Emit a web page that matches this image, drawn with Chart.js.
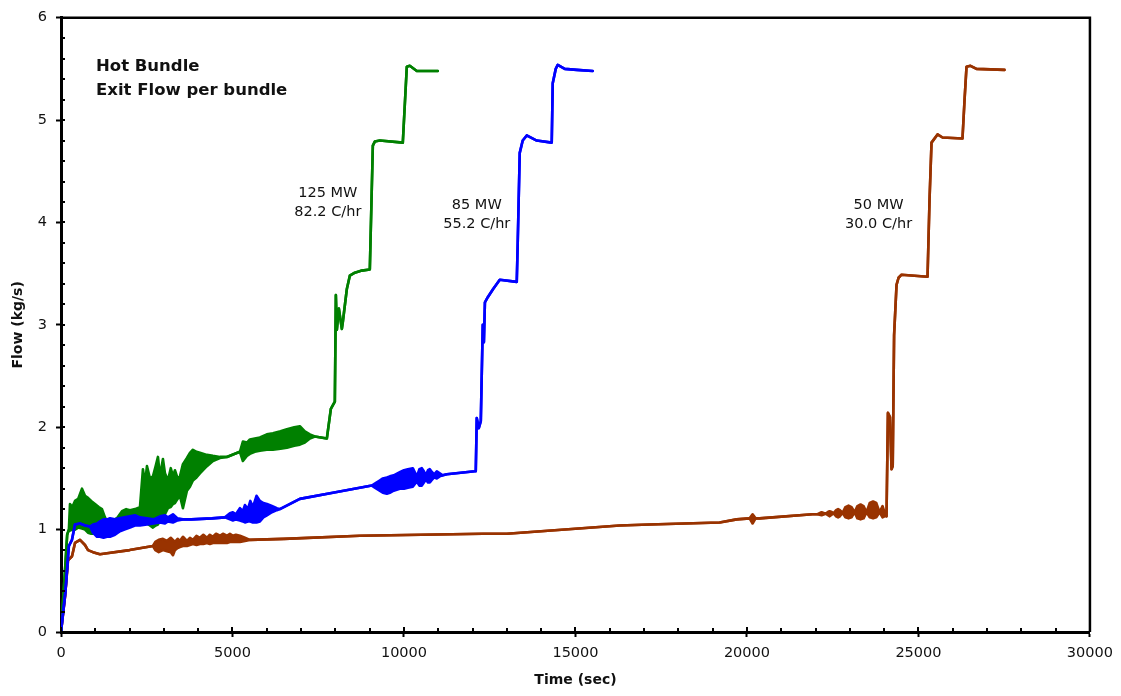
<!DOCTYPE html>
<html>
<head>
<meta charset="utf-8">
<script src="https://cdn.jsdelivr.net/npm/chart.js@4.4.1/dist/chart.umd.min.js"></script>
<style>
  html, body { margin: 0; padding: 0; background: #fff; }
  #wrap { width: 1121px; height: 696px; }
</style>
</head>
<body>
<div id="wrap"><canvas id="flowChart" width="1121" height="696"></canvas></div>
<script>
// time (sec), flow low (kg/s), flow high (kg/s) - high only where the trace oscillates
const flow125MW = [
  [0, 0], [120, 0.62], [180, 0.95], [230, 1.00],
  [262, 0.99, 1.25], [330, 1.00, 1.22], [408, 1.00, 1.28], [500, 1.02, 1.30], [612, 1.01, 1.40],
  [700, 1.00, 1.33], [787, 0.97, 1.31], [880, 0.96, 1.28], [991, 0.96, 1.25], [1100, 0.95, 1.22],
  [1195, 0.95, 1.20], [1282, 0.99, 1.12], [1340, 1.04, 1.08],
  [1430, 1.08], [1632, 1.11],
  [1778, 1.12, 1.18], [1900, 1.12, 1.20], [2011, 1.11, 1.19], [2156, 1.09, 1.20], [2302, 1.06, 1.22],
  [2389, 1.05, 1.59], [2450, 1.07, 1.45], [2506, 1.06, 1.62], [2593, 1.04, 1.50], [2681, 1.02, 1.52],
  [2760, 1.04, 1.62], [2827, 1.05, 1.71], [2885, 1.09, 1.52], [2972, 1.10, 1.69], [3031, 1.15, 1.55],
  [3118, 1.21, 1.48], [3200, 1.22, 1.60], [3264, 1.25, 1.52], [3322, 1.26, 1.58], [3400, 1.30, 1.50],
  [3468, 1.33, 1.52], [3555, 1.21, 1.64], [3672, 1.38, 1.70], [3759, 1.42, 1.75], [3846, 1.48, 1.78],
  [3950, 1.51, 1.76], [4050, 1.55, 1.75], [4254, 1.62, 1.73], [4429, 1.67, 1.72], [4633, 1.70, 1.71],
  [4837, 1.71], [5216, 1.76],
  [5303, 1.67, 1.86], [5420, 1.72, 1.85], [5507, 1.74, 1.88], [5650, 1.76, 1.89], [5799, 1.77, 1.90],
  [6000, 1.78, 1.93], [6178, 1.78, 1.94], [6400, 1.79, 1.96], [6586, 1.80, 1.98], [6800, 1.82, 2.00],
  [6964, 1.83, 2.01], [7110, 1.85, 1.96], [7256, 1.89, 1.93],
  [7402, 1.91], [7751, 1.89], [7868, 2.18], [7984, 2.25], [8014, 3.29], [8043, 2.95], [8101, 3.16],
  [8189, 2.96], [8218, 3.03], [8334, 3.35], [8421, 3.48], [8567, 3.51], [8771, 3.53], [9004, 3.54],
  [9092, 4.75], [9150, 4.79], [9296, 4.80], [9966, 4.78], [10082, 5.52], [10170, 5.53],
  [10374, 5.48], [10986, 5.48]
];

const flow85MW = [
  [0, 0], [130, 0.40], [230, 0.84], [320, 0.90], [408, 1.05], [554, 1.06], [700, 1.04], [845, 1.03],
  [932, 0.97, 1.05], [1049, 0.93, 1.06], [1136, 0.93, 1.08], [1240, 0.92, 1.10], [1340, 0.93, 1.10],
  [1428, 0.93, 1.11], [1574, 0.95, 1.10], [1700, 0.98, 1.11], [1850, 1.00, 1.12], [2011, 1.02, 1.13],
  [2156, 1.04, 1.14], [2302, 1.04, 1.12], [2506, 1.05, 1.11], [2700, 1.06, 1.10], [2885, 1.07, 1.13],
  [3031, 1.06, 1.14], [3118, 1.08, 1.12], [3264, 1.07, 1.15], [3400, 1.09, 1.11],
  [3555, 1.10], [3800, 1.10], [4400, 1.11], [4780, 1.12],
  [4925, 1.10, 1.16], [5012, 1.09, 1.17], [5100, 1.10, 1.15], [5216, 1.09, 1.21], [5303, 1.08, 1.18],
  [5362, 1.07, 1.24], [5449, 1.08, 1.20], [5520, 1.08, 1.28], [5595, 1.07, 1.22], [5700, 1.07, 1.33],
  [5799, 1.08, 1.28], [5900, 1.12, 1.26], [6003, 1.14, 1.25], [6149, 1.17, 1.23], [6294, 1.19, 1.21],
  [6382, 1.20], [6964, 1.30], [7926, 1.36], [9063, 1.43],
  [9150, 1.41, 1.45], [9290, 1.38, 1.48], [9383, 1.36, 1.50], [9500, 1.35, 1.51], [9587, 1.36, 1.52],
  [9700, 1.38, 1.53], [9878, 1.40, 1.56], [10000, 1.40, 1.58], [10112, 1.41, 1.59], [10257, 1.42, 1.60],
  [10374, 1.47, 1.52], [10450, 1.43, 1.59], [10520, 1.43, 1.60], [10580, 1.46, 1.57], [10636, 1.49, 1.53],
  [10700, 1.46, 1.58], [10753, 1.46, 1.59], [10800, 1.48, 1.57], [10880, 1.51, 1.54], [10957, 1.50, 1.57],
  [11044, 1.52, 1.55],
  [11131, 1.53], [11248, 1.54], [12064, 1.57], [12093, 1.57], [12122, 2.09], [12181, 1.99], [12240, 2.06],
  [12297, 3.00], [12330, 2.83], [12360, 3.22], [12443, 3.27], [12600, 3.35], [12793, 3.44],
  [13288, 3.42], [13317, 3.81], [13375, 4.68], [13462, 4.80], [13579, 4.85], [13870, 4.80],
  [14308, 4.78], [14337, 5.36], [14425, 5.50], [14483, 5.54], [14687, 5.50], [15037, 5.49], [15502, 5.48]
];

const flow50MW = [
  [0, 0], [120, 0.35], [204, 0.70], [321, 0.74], [408, 0.87], [554, 0.90], [699, 0.85], [787, 0.80],
  [932, 0.78], [1136, 0.76], [1340, 0.77], [2000, 0.80], [2681, 0.84],
  [2750, 0.80, 0.88], [2850, 0.78, 0.90], [2972, 0.80, 0.91], [3089, 0.79, 0.89], [3200, 0.78, 0.92],
  [3264, 0.75, 0.90], [3322, 0.80, 0.88], [3400, 0.82, 0.91], [3468, 0.83, 0.89], [3555, 0.84, 0.93],
  [3672, 0.84, 0.89], [3759, 0.85, 0.92], [3846, 0.86, 0.90], [3950, 0.85, 0.94], [4050, 0.86, 0.92],
  [4150, 0.86, 0.95], [4254, 0.87, 0.92], [4340, 0.86, 0.95], [4429, 0.87, 0.93], [4520, 0.87, 0.96],
  [4633, 0.87, 0.94], [4720, 0.87, 0.96], [4837, 0.87, 0.94], [4925, 0.88, 0.96], [5012, 0.88, 0.94],
  [5100, 0.88, 0.95], [5216, 0.88, 0.94], [5362, 0.89, 0.92],
  [5507, 0.90], [6500, 0.91], [8713, 0.94], [12297, 0.96], [13000, 0.96], [16289, 1.04], [17163, 1.05],
  [19203, 1.07], [19699, 1.10], [20077, 1.11], [20164, 1.06, 1.15], [20252, 1.11], [20369, 1.11],
  [21913, 1.15], [22059, 1.15],
  [22176, 1.14, 1.17], [22292, 1.155], [22370, 1.14, 1.175], [22409, 1.13, 1.18], [22450, 1.14, 1.175],
  [22525, 1.16], [22600, 1.13, 1.19], [22656, 1.12, 1.20], [22710, 1.13, 1.19], [22788, 1.165],
  [22870, 1.12, 1.22], [22962, 1.11, 1.235], [23050, 1.12, 1.22], [23137, 1.17],
  [23220, 1.11, 1.23], [23312, 1.10, 1.245], [23400, 1.11, 1.23], [23487, 1.17],
  [23580, 1.12, 1.26], [23677, 1.11, 1.275], [23770, 1.12, 1.26], [23866, 1.17],
  [23953, 1.12, 1.23], [24011, 1.13, 1.17],
  [24069, 1.13], [24110, 2.14], [24170, 2.10], [24215, 1.59], [24250, 1.62], [24290, 2.90],
  [24361, 3.39], [24420, 3.46], [24507, 3.49], [25265, 3.47], [25323, 4.22], [25381, 4.78],
  [25556, 4.86], [25702, 4.83], [26284, 4.82], [26343, 5.19], [26401, 5.52], [26517, 5.53],
  [26692, 5.50], [27508, 5.49]
];

const seriesNames = ['85 MW', '125 MW', '50 MW'];
const seriesRows = [flow85MW, flow125MW, flow50MW];
const seriesColors = ['#0000ff', '#008000', '#993300'];

const curveLabels = [
  { lines: ['125 MW', '82.2 C/hr'], t: 7780, flow: 4.19 },
  { lines: ['85 MW', '55.2 C/hr'], t: 12122, flow: 4.08 },
  { lines: ['50 MW', '30.0 C/hr'], t: 23837, flow: 4.08 }
];
const titleLines = ['Hot Bundle', 'Exit Flow per bundle'];

const xMax = 30000, xStep = 5000, xMinorStep = 1000;
const yMax = 6, yStep = 1, yMinorStep = 0.2;

const FONT = '"DejaVu Sans", "Liberation Sans", Arial, sans-serif';

// each trace = low line + high line filled down to it
const datasets = [];
seriesRows.forEach((rows, i) => {
  const c = seriesColors[i];
  const common = {
    borderColor: c, borderWidth: 2.6, pointRadius: 0,
    borderJoinStyle: 'round', borderCapStyle: 'round', tension: 0
  };
  datasets.push({
    ...common, label: seriesNames[i] + ' low',
    data: rows.map(r => ({ x: r[0], y: r[1] })), fill: false
  });
  datasets.push({
    ...common, label: seriesNames[i] + ' high',
    data: rows.map(r => ({ x: r[0], y: r.length > 2 ? r[2] : r[1] })),
    fill: '-1', backgroundColor: c
  });
});

const framePlugin = {
  id: 'framePlugin',
  afterDatasetsDraw(chart) {
    const { ctx, chartArea: a, scales: { x, y } } = chart;
    ctx.save();
    ctx.strokeStyle = '#000';
    ctx.lineWidth = 2.5;
    ctx.beginPath();
    ctx.moveTo(a.left, a.top);
    ctx.lineTo(a.right, a.top);
    ctx.lineTo(a.right, a.bottom);
    ctx.stroke();

    // inward ticks
    ctx.lineWidth = 2;
    ctx.beginPath();
    for (let i = 0; i * xMinorStep <= xMax; i++) {
      const v = i * xMinorStep;
      const px = Math.round(x.getPixelForValue(v));
      ctx.moveTo(px, a.bottom);
      ctx.lineTo(px, a.bottom - (v % xStep === 0 ? 5 : 4));
    }
    const nY = Math.round(yMax / yMinorStep);
    for (let i = 0; i <= nY; i++) {
      const py = Math.round(y.getPixelForValue(i * yMinorStep));
      ctx.moveTo(a.left, py);
      ctx.lineTo(a.left + 4, py);
    }
    ctx.stroke();

    // text
    ctx.fillStyle = '#111';
    ctx.font = 'bold 16.5px ' + FONT;
    ctx.textAlign = 'left';
    ctx.textBaseline = 'alphabetic';
    ctx.fillText(titleLines[0], a.left + 35, a.top + 53);
    ctx.fillText(titleLines[1], a.left + 35, a.top + 77);

    ctx.font = '14.5px ' + FONT;
    ctx.textAlign = 'center';
    ctx.textBaseline = 'middle';
    curveLabels.forEach(l => {
      const cx = x.getPixelForValue(l.t);
      const cy = y.getPixelForValue(l.flow);
      ctx.fillText(l.lines[0], cx, cy - 9.5);
      ctx.fillText(l.lines[1], cx, cy + 9.5);
    });
    ctx.restore();
  }
};

new Chart('flowChart', {
  type: 'line',
  data: { datasets },
  options: {
    responsive: false,
    animation: false,
    events: [],
    layout: { padding: { top: 14, right: 30, left: 0, bottom: 0 } },
    plugins: {
      legend: { display: false },
      tooltip: { enabled: false },
      filler: { propagate: false }
    },
    scales: {
      x: {
        type: 'linear',
        min: 0, max: xMax,
        afterFit: s => { s.height = 64; },
        border: { display: true, color: '#000', width: 3 },
        grid: { display: true, drawOnChartArea: false, drawTicks: true, tickLength: 5, tickWidth: 2, tickColor: '#000' },
        ticks: {
          stepSize: xStep, padding: 8, color: '#111', maxRotation: 0,
          font: { family: FONT, size: 14.5 },
          callback: v => String(v)
        },
        title: {
          display: true, text: 'Time (sec)', color: '#111',
          font: { family: FONT, size: 14, weight: 'bold' },
          padding: { top: 0, bottom: 7 }
        }
      },
      y: {
        min: 0, max: yMax,
        afterFit: s => { s.width = 61; },
        border: { display: true, color: '#000', width: 3 },
        grid: { display: true, drawOnChartArea: false, drawTicks: true, tickLength: 5, tickWidth: 2, tickColor: '#000' },
        ticks: {
          stepSize: yStep, padding: 9, color: '#111',
          font: { family: FONT, size: 14.5 }
        },
        title: {
          display: true, text: 'Flow (kg/s)', color: '#111',
          font: { family: FONT, size: 14, weight: 'bold' },
          padding: { top: 10, bottom: 0 }
        }
      }
    }
  },
  plugins: [framePlugin]
});
</script>
</body>
</html>
